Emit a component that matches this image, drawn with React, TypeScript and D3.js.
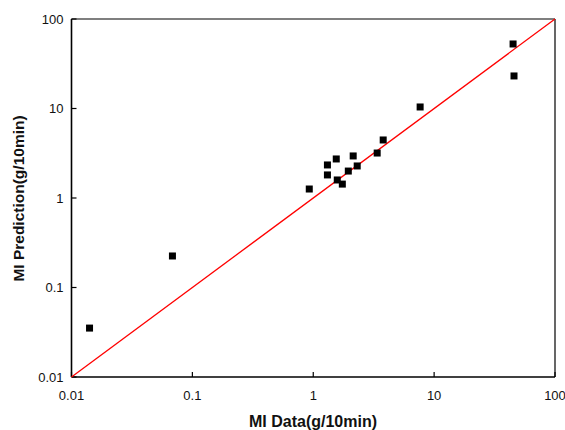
import React from "react";
import * as d3 from "d3";

const miData = [0.0141, 0.0684, 0.927, 1.31, 1.31, 1.55, 1.58, 1.74, 1.95, 2.14, 2.31, 3.38, 3.79, 7.66, 45, 45.8];
const miPrediction = [0.0352, 0.225, 1.26, 2.34, 1.81, 2.73, 1.59, 1.43, 2.0, 2.95, 2.28, 3.18, 4.45, 10.4, 52.6, 23.1];
const tickValues = [0.01, 0.1, 1, 10, 100];
const tickLabels = ["0.01", "0.1", "1", "10", "100"];
const parityLine = [0.01, 100];

const W = 565;
const H = 430;
const left = 71.5;
const right = 555;
const top = 19;
const bottom = 377;

export default function App() {
  const x = d3.scaleLog().domain([0.01, 100]).range([left, right]);
  const y = d3.scaleLog().domain([0.01, 100]).range([bottom, top]);
  const font = "Arial, 'Liberation Sans', sans-serif";
  const line = d3
    .line<number>()
    .x((d) => x(d))
    .y((d) => y(d));
  const ms = 7;
  return (
    <svg
      width={W}
      height={H}
      style={{ position: "absolute", left: 0, top: 0, background: "#fff" }}
      fontFamily={font}
    >
      <rect x={0} y={0} width={W} height={H} fill="#fff" />
      {/* frame */}
      <line x1={left} x2={right} y1={top} y2={top} stroke="#000" strokeWidth={1.2} />
      <line x1={right} x2={right} y1={top} y2={bottom} stroke="#000" strokeWidth={1.2} />
      <line x1={left} x2={right} y1={bottom} y2={bottom} stroke="#000" strokeWidth={1.6} />
      <line x1={left} x2={left} y1={top} y2={bottom} stroke="#000" strokeWidth={1.6} />
      {/* x ticks */}
      {tickValues.map((v, i) => (
        <g key={"xt" + i}>
          <line x1={x(v)} x2={x(v)} y1={bottom} y2={bottom - 5} stroke="#000" strokeWidth={1.2} />
          <text x={x(v)} y={bottom + 23} textAnchor="middle" fontSize={13} fill="#111">
            {tickLabels[i]}
          </text>
        </g>
      ))}
      {/* y ticks */}
      {tickValues.map((v, i) => (
        <g key={"yt" + i}>
          <line x1={left} x2={left + 5} y1={y(v)} y2={y(v)} stroke="#000" strokeWidth={1.2} />
          <text x={left - 8} y={y(v) + 4.5} textAnchor="end" fontSize={13} fill="#111">
            {tickLabels[i]}
          </text>
        </g>
      ))}
      {/* parity line */}
      <path d={line(parityLine) || ""} stroke="#ff0000" strokeWidth={1.3} fill="none" />
      {/* points */}
      {miData.map((d, i) => (
        <rect
          key={"p" + i}
          x={x(d) - ms / 2}
          y={y(miPrediction[i]) - ms / 2}
          width={ms}
          height={ms}
          fill="#000"
        />
      ))}
      {/* axis titles */}
      <text x={313} y={427} textAnchor="middle" fontSize={16} fontWeight="bold" fill="#111">
        MI Data(g/10min)
      </text>
      <text
        transform={`translate(24,198.5) rotate(-90)`}
        textAnchor="middle"
        fontSize={15.5}
        fontWeight="bold"
        fill="#111"
      >
        MI Prediction(g/10min)
      </text>
    </svg>
  );
}
